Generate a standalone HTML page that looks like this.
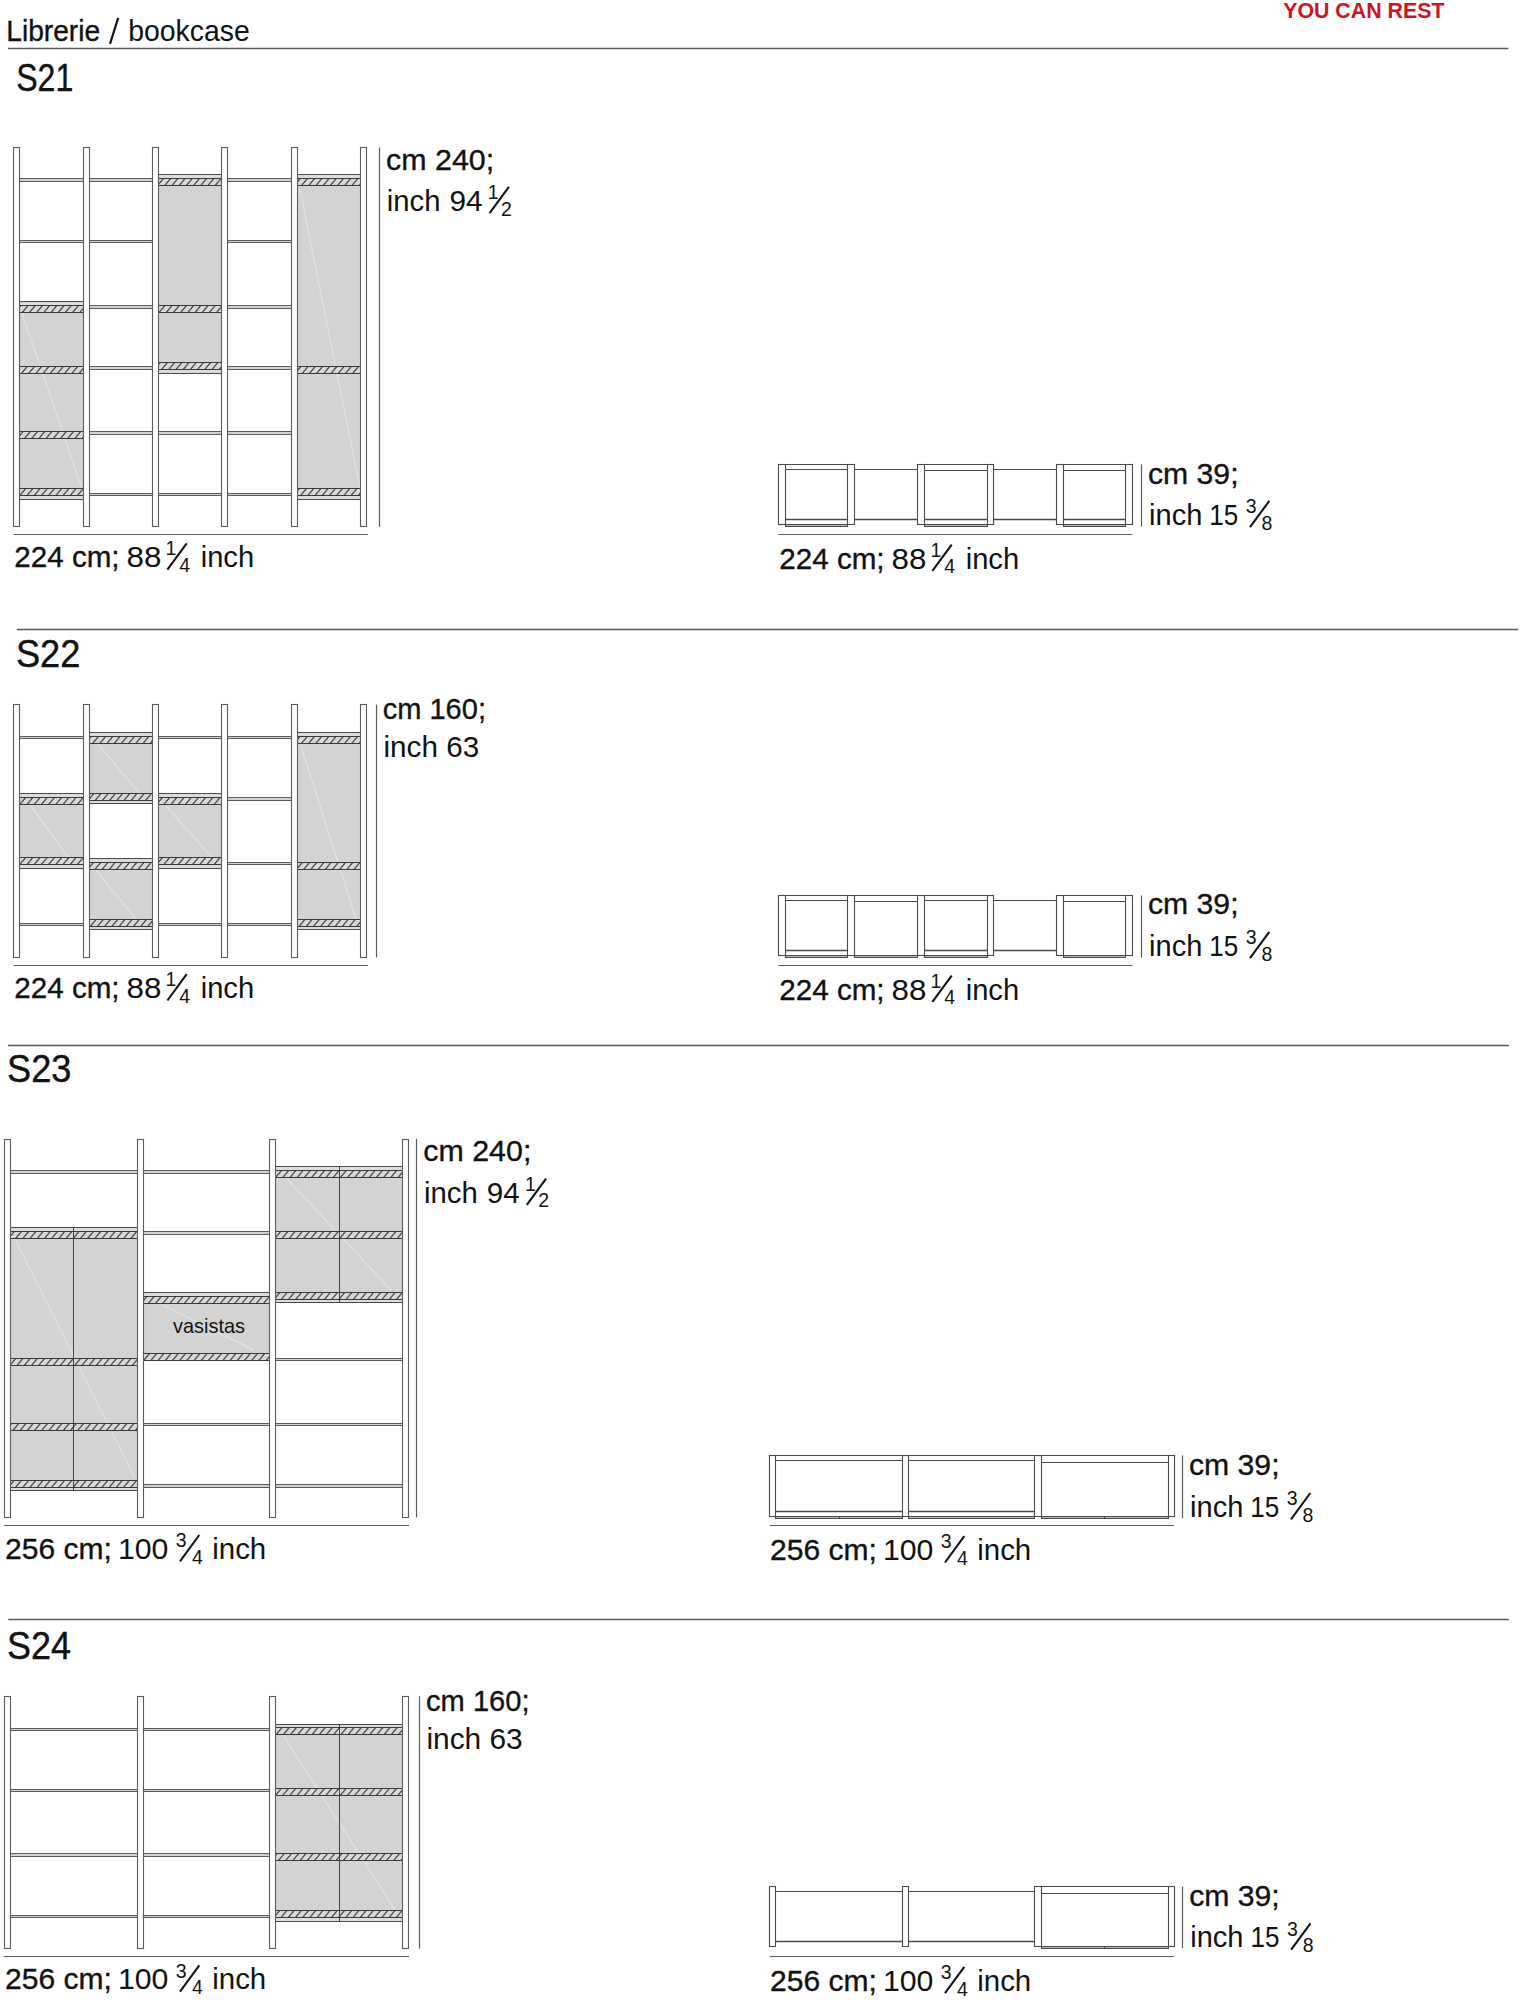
<!DOCTYPE html>
<html><head><meta charset="utf-8"><title>Librerie / bookcase</title>
<style>
html,body{margin:0;padding:0;background:#fff;}
body{width:1520px;height:2000px;position:relative;overflow:hidden;font-family:"Liberation Sans",sans-serif;}
</style></head><body>
<svg width="1520" height="2000" viewBox="0 0 1520 2000" style="position:absolute;left:0;top:0;font-family:'Liberation Sans',sans-serif">
<defs><pattern id="hatch" patternUnits="userSpaceOnUse" width="7.2" height="20" patternTransform="skewX(-40)"><rect x="-1" y="-1" width="9.2" height="22" fill="#d8d8d8"/><rect x="3.0" y="-1" width="1.25" height="22" fill="#1c1c1c"/></pattern></defs>
<line x1="8.00" y1="48.50" x2="1508.40" y2="48.50" stroke="#5a5a5a" stroke-width="1.3" />
<line x1="16.80" y1="629.50" x2="1518.00" y2="629.50" stroke="#5a5a5a" stroke-width="1.3" />
<line x1="7.90" y1="1045.50" x2="1508.80" y2="1045.50" stroke="#5a5a5a" stroke-width="1.3" />
<line x1="8.30" y1="1619.50" x2="1508.80" y2="1619.50" stroke="#5a5a5a" stroke-width="1.3" />
<rect x="19.50" y="178.50" width="64.00" height="3.00" fill="#d2d2d2" stroke="#5c5c5c" stroke-width="1.0" />
<rect x="19.50" y="240.50" width="64.00" height="2.00" fill="#d2d2d2" stroke="#5c5c5c" stroke-width="1.0" />
<rect x="89.50" y="178.50" width="63.00" height="3.00" fill="#d2d2d2" stroke="#5c5c5c" stroke-width="1.0" />
<rect x="89.50" y="240.50" width="63.00" height="2.00" fill="#d2d2d2" stroke="#5c5c5c" stroke-width="1.0" />
<rect x="89.50" y="305.50" width="63.00" height="3.00" fill="#d2d2d2" stroke="#5c5c5c" stroke-width="1.0" />
<rect x="89.50" y="366.50" width="63.00" height="3.00" fill="#d2d2d2" stroke="#5c5c5c" stroke-width="1.0" />
<rect x="89.50" y="431.50" width="63.00" height="3.00" fill="#d2d2d2" stroke="#5c5c5c" stroke-width="1.0" />
<rect x="89.50" y="493.50" width="63.00" height="2.00" fill="#d2d2d2" stroke="#5c5c5c" stroke-width="1.0" />
<rect x="158.50" y="431.50" width="63.00" height="3.00" fill="#d2d2d2" stroke="#5c5c5c" stroke-width="1.0" />
<rect x="158.50" y="493.50" width="63.00" height="2.00" fill="#d2d2d2" stroke="#5c5c5c" stroke-width="1.0" />
<rect x="227.50" y="178.50" width="64.00" height="3.00" fill="#d2d2d2" stroke="#5c5c5c" stroke-width="1.0" />
<rect x="227.50" y="240.50" width="64.00" height="2.00" fill="#d2d2d2" stroke="#5c5c5c" stroke-width="1.0" />
<rect x="227.50" y="305.50" width="64.00" height="3.00" fill="#d2d2d2" stroke="#5c5c5c" stroke-width="1.0" />
<rect x="227.50" y="366.50" width="64.00" height="3.00" fill="#d2d2d2" stroke="#5c5c5c" stroke-width="1.0" />
<rect x="227.50" y="431.50" width="64.00" height="3.00" fill="#d2d2d2" stroke="#5c5c5c" stroke-width="1.0" />
<rect x="227.50" y="493.50" width="64.00" height="2.00" fill="#d2d2d2" stroke="#5c5c5c" stroke-width="1.0" />
<rect x="19.50" y="301.50" width="64.00" height="198.00" fill="#d3d3d3" stroke="#5c5c5c" stroke-width="1.0" />
<line x1="22.00" y1="313.00" x2="81.00" y2="486.00" stroke="#ffffff" stroke-width="1.4" opacity="0.32"/>
<rect x="19.50" y="301.50" width="64.00" height="4.00" fill="#dcdcdc" stroke="#4a4a4a" stroke-width="1.0" />
<rect x="19.50" y="495.50" width="64.00" height="4.00" fill="#dcdcdc" stroke="#4a4a4a" stroke-width="1.0" />
<rect x="19.50" y="305.50" width="64.00" height="7.00" fill="url(#hatch)" stroke="#3a3a3a" stroke-width="1.0" />
<rect x="19.50" y="366.50" width="64.00" height="7.00" fill="url(#hatch)" stroke="#3a3a3a" stroke-width="1.0" />
<rect x="19.50" y="431.50" width="64.00" height="7.00" fill="url(#hatch)" stroke="#3a3a3a" stroke-width="1.0" />
<rect x="19.50" y="488.50" width="64.00" height="7.00" fill="url(#hatch)" stroke="#3a3a3a" stroke-width="1.0" />
<rect x="158.50" y="174.50" width="63.00" height="199.00" fill="#d3d3d3" stroke="#5c5c5c" stroke-width="1.0" />
<rect x="158.50" y="174.50" width="63.00" height="4.00" fill="#dcdcdc" stroke="#4a4a4a" stroke-width="1.0" />
<rect x="158.50" y="369.50" width="63.00" height="4.00" fill="#dcdcdc" stroke="#4a4a4a" stroke-width="1.0" />
<rect x="158.50" y="178.50" width="63.00" height="7.00" fill="url(#hatch)" stroke="#3a3a3a" stroke-width="1.0" />
<rect x="158.50" y="305.50" width="63.00" height="7.00" fill="url(#hatch)" stroke="#3a3a3a" stroke-width="1.0" />
<rect x="158.50" y="362.50" width="63.00" height="7.00" fill="url(#hatch)" stroke="#3a3a3a" stroke-width="1.0" />
<rect x="297.50" y="174.50" width="63.00" height="325.00" fill="#d3d3d3" stroke="#5c5c5c" stroke-width="1.0" />
<line x1="300.00" y1="190.00" x2="360.00" y2="488.00" stroke="#ffffff" stroke-width="1.4" opacity="0.32"/>
<rect x="297.50" y="174.50" width="63.00" height="4.00" fill="#dcdcdc" stroke="#4a4a4a" stroke-width="1.0" />
<rect x="297.50" y="495.50" width="63.00" height="4.00" fill="#dcdcdc" stroke="#4a4a4a" stroke-width="1.0" />
<rect x="297.50" y="178.50" width="63.00" height="7.00" fill="url(#hatch)" stroke="#3a3a3a" stroke-width="1.0" />
<rect x="297.50" y="366.50" width="63.00" height="7.00" fill="url(#hatch)" stroke="#3a3a3a" stroke-width="1.0" />
<rect x="297.50" y="488.50" width="63.00" height="7.00" fill="url(#hatch)" stroke="#3a3a3a" stroke-width="1.0" />
<rect x="13.50" y="147.50" width="6.00" height="379.00" fill="#ffffff" stroke="#5c5c5c" stroke-width="1.1" />
<rect x="83.50" y="147.50" width="6.00" height="379.00" fill="#ffffff" stroke="#5c5c5c" stroke-width="1.1" />
<rect x="152.50" y="147.50" width="6.00" height="379.00" fill="#ffffff" stroke="#5c5c5c" stroke-width="1.1" />
<rect x="221.50" y="147.50" width="6.00" height="379.00" fill="#ffffff" stroke="#5c5c5c" stroke-width="1.1" />
<rect x="291.50" y="147.50" width="6.00" height="379.00" fill="#ffffff" stroke="#5c5c5c" stroke-width="1.1" />
<rect x="360.50" y="147.50" width="6.00" height="379.00" fill="#ffffff" stroke="#5c5c5c" stroke-width="1.1" />
<line x1="379.50" y1="147.50" x2="379.50" y2="526.70" stroke="#5c5c5c" stroke-width="1.2" />
<line x1="13.50" y1="534.50" x2="368.00" y2="534.50" stroke="#5c5c5c" stroke-width="1.2" />
<rect x="19.50" y="736.50" width="64.00" height="2.00" fill="#d2d2d2" stroke="#5c5c5c" stroke-width="1.0" />
<rect x="19.50" y="923.50" width="64.00" height="2.00" fill="#d2d2d2" stroke="#5c5c5c" stroke-width="1.0" />
<rect x="158.50" y="736.50" width="63.00" height="2.00" fill="#d2d2d2" stroke="#5c5c5c" stroke-width="1.0" />
<rect x="158.50" y="923.50" width="63.00" height="2.00" fill="#d2d2d2" stroke="#5c5c5c" stroke-width="1.0" />
<rect x="227.50" y="736.50" width="64.00" height="2.00" fill="#d2d2d2" stroke="#5c5c5c" stroke-width="1.0" />
<rect x="227.50" y="797.50" width="64.00" height="3.00" fill="#d2d2d2" stroke="#5c5c5c" stroke-width="1.0" />
<rect x="227.50" y="862.50" width="64.00" height="2.00" fill="#d2d2d2" stroke="#5c5c5c" stroke-width="1.0" />
<rect x="227.50" y="923.50" width="64.00" height="2.00" fill="#d2d2d2" stroke="#5c5c5c" stroke-width="1.0" />
<rect x="19.50" y="793.50" width="64.00" height="75.00" fill="#d3d3d3" stroke="#5c5c5c" stroke-width="1.0" />
<line x1="31.00" y1="806.00" x2="68.00" y2="857.00" stroke="#ffffff" stroke-width="1.4" opacity="0.32"/>
<rect x="19.50" y="793.50" width="64.00" height="4.00" fill="#dcdcdc" stroke="#4a4a4a" stroke-width="1.0" />
<rect x="19.50" y="864.50" width="64.00" height="4.00" fill="#dcdcdc" stroke="#4a4a4a" stroke-width="1.0" />
<rect x="19.50" y="797.50" width="64.00" height="7.00" fill="url(#hatch)" stroke="#3a3a3a" stroke-width="1.0" />
<rect x="19.50" y="857.50" width="64.00" height="7.00" fill="url(#hatch)" stroke="#3a3a3a" stroke-width="1.0" />
<rect x="89.50" y="732.50" width="63.00" height="71.00" fill="#d3d3d3" stroke="#5c5c5c" stroke-width="1.0" />
<line x1="97.50" y1="743.50" x2="139.00" y2="792.50" stroke="#ffffff" stroke-width="1.4" opacity="0.32"/>
<rect x="89.50" y="732.50" width="63.00" height="4.00" fill="#dcdcdc" stroke="#4a4a4a" stroke-width="1.0" />
<rect x="89.50" y="800.50" width="63.00" height="3.00" fill="#dcdcdc" stroke="#4a4a4a" stroke-width="1.0" />
<rect x="89.50" y="736.50" width="63.00" height="7.00" fill="url(#hatch)" stroke="#3a3a3a" stroke-width="1.0" />
<rect x="89.50" y="793.50" width="63.00" height="7.00" fill="url(#hatch)" stroke="#3a3a3a" stroke-width="1.0" />
<rect x="89.50" y="858.50" width="63.00" height="71.00" fill="#d3d3d3" stroke="#5c5c5c" stroke-width="1.0" />
<line x1="95.00" y1="869.00" x2="136.00" y2="919.00" stroke="#ffffff" stroke-width="1.4" opacity="0.32"/>
<rect x="89.50" y="858.50" width="63.00" height="4.00" fill="#dcdcdc" stroke="#4a4a4a" stroke-width="1.0" />
<rect x="89.50" y="926.50" width="63.00" height="3.00" fill="#dcdcdc" stroke="#4a4a4a" stroke-width="1.0" />
<rect x="89.50" y="862.50" width="63.00" height="7.00" fill="url(#hatch)" stroke="#3a3a3a" stroke-width="1.0" />
<rect x="89.50" y="919.50" width="63.00" height="7.00" fill="url(#hatch)" stroke="#3a3a3a" stroke-width="1.0" />
<rect x="158.50" y="793.50" width="63.00" height="75.00" fill="#d3d3d3" stroke="#5c5c5c" stroke-width="1.0" />
<line x1="166.00" y1="806.00" x2="212.00" y2="857.00" stroke="#ffffff" stroke-width="1.4" opacity="0.32"/>
<rect x="158.50" y="793.50" width="63.00" height="4.00" fill="#dcdcdc" stroke="#4a4a4a" stroke-width="1.0" />
<rect x="158.50" y="864.50" width="63.00" height="4.00" fill="#dcdcdc" stroke="#4a4a4a" stroke-width="1.0" />
<rect x="158.50" y="797.50" width="63.00" height="7.00" fill="url(#hatch)" stroke="#3a3a3a" stroke-width="1.0" />
<rect x="158.50" y="857.50" width="63.00" height="7.00" fill="url(#hatch)" stroke="#3a3a3a" stroke-width="1.0" />
<rect x="297.50" y="732.50" width="63.00" height="197.00" fill="#d3d3d3" stroke="#5c5c5c" stroke-width="1.0" />
<line x1="300.00" y1="743.00" x2="356.00" y2="919.00" stroke="#ffffff" stroke-width="1.4" opacity="0.32"/>
<rect x="297.50" y="732.50" width="63.00" height="4.00" fill="#dcdcdc" stroke="#4a4a4a" stroke-width="1.0" />
<rect x="297.50" y="926.50" width="63.00" height="3.00" fill="#dcdcdc" stroke="#4a4a4a" stroke-width="1.0" />
<rect x="297.50" y="736.50" width="63.00" height="7.00" fill="url(#hatch)" stroke="#3a3a3a" stroke-width="1.0" />
<rect x="297.50" y="862.50" width="63.00" height="7.00" fill="url(#hatch)" stroke="#3a3a3a" stroke-width="1.0" />
<rect x="297.50" y="919.50" width="63.00" height="7.00" fill="url(#hatch)" stroke="#3a3a3a" stroke-width="1.0" />
<rect x="13.50" y="704.50" width="6.00" height="253.00" fill="#ffffff" stroke="#5c5c5c" stroke-width="1.1" />
<rect x="83.50" y="704.50" width="6.00" height="253.00" fill="#ffffff" stroke="#5c5c5c" stroke-width="1.1" />
<rect x="152.50" y="704.50" width="6.00" height="253.00" fill="#ffffff" stroke="#5c5c5c" stroke-width="1.1" />
<rect x="221.50" y="704.50" width="6.00" height="253.00" fill="#ffffff" stroke="#5c5c5c" stroke-width="1.1" />
<rect x="291.50" y="704.50" width="6.00" height="253.00" fill="#ffffff" stroke="#5c5c5c" stroke-width="1.1" />
<rect x="360.50" y="704.50" width="6.00" height="253.00" fill="#ffffff" stroke="#5c5c5c" stroke-width="1.1" />
<line x1="376.50" y1="704.50" x2="376.50" y2="957.50" stroke="#5c5c5c" stroke-width="1.2" />
<line x1="13.50" y1="965.50" x2="368.00" y2="965.50" stroke="#5c5c5c" stroke-width="1.2" />
<rect x="10.50" y="1170.50" width="127.00" height="3.00" fill="#d2d2d2" stroke="#5c5c5c" stroke-width="1.0" />
<rect x="143.50" y="1170.50" width="126.00" height="3.00" fill="#d2d2d2" stroke="#5c5c5c" stroke-width="1.0" />
<rect x="143.50" y="1231.50" width="126.00" height="3.00" fill="#d2d2d2" stroke="#5c5c5c" stroke-width="1.0" />
<rect x="143.50" y="1423.50" width="126.00" height="2.00" fill="#d2d2d2" stroke="#5c5c5c" stroke-width="1.0" />
<rect x="143.50" y="1484.50" width="126.00" height="3.00" fill="#d2d2d2" stroke="#5c5c5c" stroke-width="1.0" />
<rect x="275.50" y="1358.50" width="127.00" height="2.00" fill="#d2d2d2" stroke="#5c5c5c" stroke-width="1.0" />
<rect x="275.50" y="1423.50" width="127.00" height="2.00" fill="#d2d2d2" stroke="#5c5c5c" stroke-width="1.0" />
<rect x="275.50" y="1484.50" width="127.00" height="3.00" fill="#d2d2d2" stroke="#5c5c5c" stroke-width="1.0" />
<rect x="10.50" y="1227.50" width="127.00" height="263.00" fill="#d3d3d3" stroke="#5c5c5c" stroke-width="1.0" />
<line x1="15.00" y1="1239.00" x2="135.00" y2="1478.00" stroke="#ffffff" stroke-width="1.4" opacity="0.32"/>
<rect x="10.50" y="1227.50" width="127.00" height="4.00" fill="#dcdcdc" stroke="#4a4a4a" stroke-width="1.0" />
<rect x="10.50" y="1487.50" width="127.00" height="3.00" fill="#dcdcdc" stroke="#4a4a4a" stroke-width="1.0" />
<rect x="10.50" y="1231.50" width="127.00" height="7.00" fill="url(#hatch)" stroke="#3a3a3a" stroke-width="1.0" />
<rect x="10.50" y="1358.50" width="127.00" height="7.00" fill="url(#hatch)" stroke="#3a3a3a" stroke-width="1.0" />
<rect x="10.50" y="1423.50" width="127.00" height="7.00" fill="url(#hatch)" stroke="#3a3a3a" stroke-width="1.0" />
<rect x="10.50" y="1480.50" width="127.00" height="7.00" fill="url(#hatch)" stroke="#3a3a3a" stroke-width="1.0" />
<line x1="73.50" y1="1227.90" x2="73.50" y2="1491.00" stroke="#333333" stroke-width="0.9" />
<rect x="143.50" y="1292.50" width="126.00" height="68.00" fill="#d3d3d3" stroke="#5c5c5c" stroke-width="1.0" />
<line x1="161.60" y1="1304.70" x2="254.00" y2="1350.00" stroke="#ffffff" stroke-width="1.4" opacity="0.32"/>
<rect x="143.50" y="1292.50" width="126.00" height="4.00" fill="#dcdcdc" stroke="#4a4a4a" stroke-width="1.0" />
<rect x="143.50" y="1296.50" width="126.00" height="7.00" fill="url(#hatch)" stroke="#3a3a3a" stroke-width="1.0" />
<rect x="143.50" y="1353.50" width="126.00" height="7.00" fill="url(#hatch)" stroke="#3a3a3a" stroke-width="1.0" />
<rect x="275.50" y="1166.50" width="127.00" height="136.00" fill="#d3d3d3" stroke="#5c5c5c" stroke-width="1.0" />
<line x1="287.00" y1="1179.00" x2="391.00" y2="1290.00" stroke="#ffffff" stroke-width="1.4" opacity="0.32"/>
<rect x="275.50" y="1166.50" width="127.00" height="4.00" fill="#dcdcdc" stroke="#4a4a4a" stroke-width="1.0" />
<rect x="275.50" y="1299.50" width="127.00" height="3.00" fill="#dcdcdc" stroke="#4a4a4a" stroke-width="1.0" />
<rect x="275.50" y="1170.50" width="127.00" height="7.00" fill="url(#hatch)" stroke="#3a3a3a" stroke-width="1.0" />
<rect x="275.50" y="1231.50" width="127.00" height="7.00" fill="url(#hatch)" stroke="#3a3a3a" stroke-width="1.0" />
<rect x="275.50" y="1292.50" width="127.00" height="7.00" fill="url(#hatch)" stroke="#3a3a3a" stroke-width="1.0" />
<line x1="339.50" y1="1166.70" x2="339.50" y2="1302.70" stroke="#333333" stroke-width="0.9" />
<rect x="4.50" y="1139.50" width="6.00" height="378.00" fill="#ffffff" stroke="#5c5c5c" stroke-width="1.1" />
<rect x="137.50" y="1139.50" width="6.00" height="378.00" fill="#ffffff" stroke="#5c5c5c" stroke-width="1.1" />
<rect x="269.50" y="1139.50" width="6.00" height="378.00" fill="#ffffff" stroke="#5c5c5c" stroke-width="1.1" />
<rect x="402.50" y="1139.50" width="6.00" height="378.00" fill="#ffffff" stroke="#5c5c5c" stroke-width="1.1" />
<line x1="416.50" y1="1138.80" x2="416.50" y2="1517.60" stroke="#5c5c5c" stroke-width="1.2" />
<line x1="4.00" y1="1525.50" x2="409.00" y2="1525.50" stroke="#5c5c5c" stroke-width="1.2" />
<rect x="10.50" y="1728.50" width="127.00" height="2.00" fill="#d2d2d2" stroke="#5c5c5c" stroke-width="1.0" />
<rect x="10.50" y="1789.50" width="127.00" height="2.00" fill="#d2d2d2" stroke="#5c5c5c" stroke-width="1.0" />
<rect x="10.50" y="1853.50" width="127.00" height="3.00" fill="#d2d2d2" stroke="#5c5c5c" stroke-width="1.0" />
<rect x="10.50" y="1915.50" width="127.00" height="2.00" fill="#d2d2d2" stroke="#5c5c5c" stroke-width="1.0" />
<rect x="143.50" y="1728.50" width="126.00" height="2.00" fill="#d2d2d2" stroke="#5c5c5c" stroke-width="1.0" />
<rect x="143.50" y="1789.50" width="126.00" height="2.00" fill="#d2d2d2" stroke="#5c5c5c" stroke-width="1.0" />
<rect x="143.50" y="1853.50" width="126.00" height="3.00" fill="#d2d2d2" stroke="#5c5c5c" stroke-width="1.0" />
<rect x="143.50" y="1915.50" width="126.00" height="2.00" fill="#d2d2d2" stroke="#5c5c5c" stroke-width="1.0" />
<rect x="275.50" y="1724.50" width="127.00" height="197.00" fill="#d3d3d3" stroke="#5c5c5c" stroke-width="1.0" />
<line x1="283.00" y1="1735.00" x2="395.00" y2="1910.00" stroke="#ffffff" stroke-width="1.4" opacity="0.32"/>
<rect x="275.50" y="1724.50" width="127.00" height="3.00" fill="#dcdcdc" stroke="#4a4a4a" stroke-width="1.0" />
<rect x="275.50" y="1917.50" width="127.00" height="4.00" fill="#dcdcdc" stroke="#4a4a4a" stroke-width="1.0" />
<rect x="275.50" y="1727.50" width="127.00" height="7.00" fill="url(#hatch)" stroke="#3a3a3a" stroke-width="1.0" />
<rect x="275.50" y="1788.50" width="127.00" height="7.00" fill="url(#hatch)" stroke="#3a3a3a" stroke-width="1.0" />
<rect x="275.50" y="1853.50" width="127.00" height="7.00" fill="url(#hatch)" stroke="#3a3a3a" stroke-width="1.0" />
<rect x="275.50" y="1910.50" width="127.00" height="7.00" fill="url(#hatch)" stroke="#3a3a3a" stroke-width="1.0" />
<line x1="339.50" y1="1724.10" x2="339.50" y2="1921.20" stroke="#333333" stroke-width="0.9" />
<rect x="4.50" y="1696.50" width="6.00" height="252.00" fill="#ffffff" stroke="#5c5c5c" stroke-width="1.1" />
<rect x="137.50" y="1696.50" width="6.00" height="252.00" fill="#ffffff" stroke="#5c5c5c" stroke-width="1.1" />
<rect x="269.50" y="1696.50" width="6.00" height="252.00" fill="#ffffff" stroke="#5c5c5c" stroke-width="1.1" />
<rect x="402.50" y="1696.50" width="6.00" height="252.00" fill="#ffffff" stroke="#5c5c5c" stroke-width="1.1" />
<line x1="419.50" y1="1696.20" x2="419.50" y2="1948.60" stroke="#5c5c5c" stroke-width="1.2" />
<line x1="4.00" y1="1956.50" x2="409.00" y2="1956.50" stroke="#5c5c5c" stroke-width="1.2" />
<line x1="785.10" y1="464.50" x2="847.90" y2="464.50" stroke="#4a4a4a" stroke-width="1.0" />
<line x1="785.10" y1="469.50" x2="847.90" y2="469.50" stroke="#4a4a4a" stroke-width="1.0" />
<line x1="785.10" y1="519.50" x2="847.90" y2="519.50" stroke="#4a4a4a" stroke-width="1.4" />
<line x1="785.10" y1="524.50" x2="847.90" y2="524.50" stroke="#4a4a4a" stroke-width="1.0" />
<rect x="785.50" y="524.50" width="62.00" height="2.00" fill="#bababa" stroke="#4a4a4a" stroke-width="1.0" />
<line x1="854.70" y1="469.50" x2="917.40" y2="469.50" stroke="#4a4a4a" stroke-width="1.0" />
<line x1="854.70" y1="519.50" x2="917.40" y2="519.50" stroke="#4a4a4a" stroke-width="1.4" />
<line x1="924.20" y1="464.50" x2="987.00" y2="464.50" stroke="#4a4a4a" stroke-width="1.0" />
<line x1="924.20" y1="470.50" x2="987.00" y2="470.50" stroke="#4a4a4a" stroke-width="1.0" />
<line x1="924.20" y1="519.50" x2="987.00" y2="519.50" stroke="#4a4a4a" stroke-width="1.4" />
<line x1="924.20" y1="524.50" x2="987.00" y2="524.50" stroke="#4a4a4a" stroke-width="1.0" />
<rect x="924.50" y="524.50" width="63.00" height="2.00" fill="#bababa" stroke="#4a4a4a" stroke-width="1.0" />
<line x1="993.80" y1="469.50" x2="1056.70" y2="469.50" stroke="#4a4a4a" stroke-width="1.0" />
<line x1="993.80" y1="519.50" x2="1056.70" y2="519.50" stroke="#4a4a4a" stroke-width="1.4" />
<line x1="1063.50" y1="464.50" x2="1125.70" y2="464.50" stroke="#4a4a4a" stroke-width="1.0" />
<line x1="1063.50" y1="470.50" x2="1125.70" y2="470.50" stroke="#4a4a4a" stroke-width="1.0" />
<line x1="1063.50" y1="519.50" x2="1125.70" y2="519.50" stroke="#4a4a4a" stroke-width="1.4" />
<line x1="1063.50" y1="524.50" x2="1125.70" y2="524.50" stroke="#4a4a4a" stroke-width="1.0" />
<rect x="1063.50" y="524.50" width="62.00" height="2.00" fill="#bababa" stroke="#4a4a4a" stroke-width="1.0" />
<rect x="778.50" y="464.50" width="7.00" height="60.00" fill="#ffffff" stroke="#4a4a4a" stroke-width="1.1" />
<rect x="847.50" y="464.50" width="7.00" height="60.00" fill="#ffffff" stroke="#4a4a4a" stroke-width="1.1" />
<rect x="917.50" y="464.50" width="7.00" height="60.00" fill="#ffffff" stroke="#4a4a4a" stroke-width="1.1" />
<rect x="987.50" y="464.50" width="6.00" height="60.00" fill="#ffffff" stroke="#4a4a4a" stroke-width="1.1" />
<rect x="1056.50" y="464.50" width="7.00" height="60.00" fill="#ffffff" stroke="#4a4a4a" stroke-width="1.1" />
<rect x="1125.50" y="464.50" width="7.00" height="60.00" fill="#ffffff" stroke="#4a4a4a" stroke-width="1.1" />
<line x1="1141.50" y1="464.30" x2="1141.50" y2="526.60" stroke="#5c5c5c" stroke-width="1.2" />
<line x1="778.30" y1="534.50" x2="1132.50" y2="534.50" stroke="#5c5c5c" stroke-width="1.2" />
<line x1="785.10" y1="895.50" x2="847.90" y2="895.50" stroke="#4a4a4a" stroke-width="1.0" />
<line x1="785.10" y1="900.50" x2="847.90" y2="900.50" stroke="#4a4a4a" stroke-width="1.0" />
<line x1="785.10" y1="950.50" x2="847.90" y2="950.50" stroke="#4a4a4a" stroke-width="1.4" />
<line x1="785.10" y1="955.50" x2="847.90" y2="955.50" stroke="#4a4a4a" stroke-width="1.0" />
<rect x="785.50" y="955.50" width="62.00" height="2.00" fill="#bababa" stroke="#4a4a4a" stroke-width="1.0" />
<line x1="854.70" y1="895.50" x2="917.40" y2="895.50" stroke="#4a4a4a" stroke-width="1.0" />
<line x1="854.70" y1="901.50" x2="917.40" y2="901.50" stroke="#4a4a4a" stroke-width="1.0" />
<line x1="854.70" y1="955.50" x2="917.40" y2="955.50" stroke="#4a4a4a" stroke-width="1.0" />
<rect x="854.50" y="955.50" width="63.00" height="2.00" fill="#bababa" stroke="#4a4a4a" stroke-width="1.0" />
<line x1="924.20" y1="895.50" x2="987.00" y2="895.50" stroke="#4a4a4a" stroke-width="1.0" />
<line x1="924.20" y1="900.50" x2="987.00" y2="900.50" stroke="#4a4a4a" stroke-width="1.0" />
<line x1="924.20" y1="950.50" x2="987.00" y2="950.50" stroke="#4a4a4a" stroke-width="1.4" />
<line x1="924.20" y1="955.50" x2="987.00" y2="955.50" stroke="#4a4a4a" stroke-width="1.0" />
<rect x="924.50" y="955.50" width="63.00" height="2.00" fill="#bababa" stroke="#4a4a4a" stroke-width="1.0" />
<line x1="993.80" y1="900.50" x2="1056.70" y2="900.50" stroke="#4a4a4a" stroke-width="1.0" />
<line x1="993.80" y1="950.50" x2="1056.70" y2="950.50" stroke="#4a4a4a" stroke-width="1.4" />
<line x1="1063.50" y1="895.50" x2="1125.70" y2="895.50" stroke="#4a4a4a" stroke-width="1.0" />
<line x1="1063.50" y1="901.50" x2="1125.70" y2="901.50" stroke="#4a4a4a" stroke-width="1.0" />
<line x1="1063.50" y1="955.50" x2="1125.70" y2="955.50" stroke="#4a4a4a" stroke-width="1.0" />
<rect x="1063.50" y="955.50" width="62.00" height="2.00" fill="#bababa" stroke="#4a4a4a" stroke-width="1.0" />
<rect x="778.50" y="895.50" width="7.00" height="60.00" fill="#ffffff" stroke="#4a4a4a" stroke-width="1.1" />
<rect x="847.50" y="895.50" width="7.00" height="60.00" fill="#ffffff" stroke="#4a4a4a" stroke-width="1.1" />
<rect x="917.50" y="895.50" width="7.00" height="60.00" fill="#ffffff" stroke="#4a4a4a" stroke-width="1.1" />
<rect x="987.50" y="895.50" width="6.00" height="60.00" fill="#ffffff" stroke="#4a4a4a" stroke-width="1.1" />
<rect x="1056.50" y="895.50" width="7.00" height="60.00" fill="#ffffff" stroke="#4a4a4a" stroke-width="1.1" />
<rect x="1125.50" y="895.50" width="7.00" height="60.00" fill="#ffffff" stroke="#4a4a4a" stroke-width="1.1" />
<line x1="1141.50" y1="895.50" x2="1141.50" y2="957.60" stroke="#5c5c5c" stroke-width="1.2" />
<line x1="778.30" y1="965.50" x2="1132.50" y2="965.50" stroke="#5c5c5c" stroke-width="1.2" />
<line x1="775.90" y1="1455.50" x2="902.30" y2="1455.50" stroke="#4a4a4a" stroke-width="1.0" />
<line x1="775.90" y1="1460.50" x2="902.30" y2="1460.50" stroke="#4a4a4a" stroke-width="1.0" />
<line x1="775.90" y1="1511.50" x2="902.30" y2="1511.50" stroke="#4a4a4a" stroke-width="1.4" />
<line x1="775.90" y1="1516.50" x2="902.30" y2="1516.50" stroke="#4a4a4a" stroke-width="1.0" />
<rect x="775.50" y="1516.50" width="127.00" height="2.00" fill="#bababa" stroke="#4a4a4a" stroke-width="1.0" />
<line x1="839.50" y1="1516.00" x2="839.50" y2="1518.20" stroke="#4a4a4a" stroke-width="1.0" />
<line x1="908.50" y1="1455.50" x2="1034.90" y2="1455.50" stroke="#4a4a4a" stroke-width="1.0" />
<line x1="908.50" y1="1460.50" x2="1034.90" y2="1460.50" stroke="#4a4a4a" stroke-width="1.0" />
<line x1="908.50" y1="1511.50" x2="1034.90" y2="1511.50" stroke="#4a4a4a" stroke-width="1.4" />
<line x1="908.50" y1="1516.50" x2="1034.90" y2="1516.50" stroke="#4a4a4a" stroke-width="1.0" />
<rect x="908.50" y="1516.50" width="126.00" height="2.00" fill="#bababa" stroke="#4a4a4a" stroke-width="1.0" />
<line x1="1041.10" y1="1455.50" x2="1168.00" y2="1455.50" stroke="#4a4a4a" stroke-width="1.0" />
<line x1="1041.10" y1="1462.50" x2="1168.00" y2="1462.50" stroke="#4a4a4a" stroke-width="1.0" />
<line x1="1041.10" y1="1516.50" x2="1168.00" y2="1516.50" stroke="#4a4a4a" stroke-width="1.0" />
<rect x="1041.50" y="1516.50" width="127.00" height="2.00" fill="#bababa" stroke="#4a4a4a" stroke-width="1.0" />
<line x1="1104.50" y1="1516.00" x2="1104.50" y2="1518.20" stroke="#4a4a4a" stroke-width="1.0" />
<rect x="769.50" y="1455.50" width="6.00" height="61.00" fill="#ffffff" stroke="#4a4a4a" stroke-width="1.1" />
<rect x="902.50" y="1455.50" width="6.00" height="61.00" fill="#ffffff" stroke="#4a4a4a" stroke-width="1.1" />
<rect x="1034.50" y="1455.50" width="7.00" height="61.00" fill="#ffffff" stroke="#4a4a4a" stroke-width="1.1" />
<rect x="1168.50" y="1455.50" width="6.00" height="61.00" fill="#ffffff" stroke="#4a4a4a" stroke-width="1.1" />
<line x1="1182.50" y1="1455.40" x2="1182.50" y2="1518.20" stroke="#5c5c5c" stroke-width="1.2" />
<line x1="769.70" y1="1525.50" x2="1174.00" y2="1525.50" stroke="#5c5c5c" stroke-width="1.2" />
<line x1="775.90" y1="1891.50" x2="902.30" y2="1891.50" stroke="#4a4a4a" stroke-width="1.0" />
<line x1="775.90" y1="1941.50" x2="902.30" y2="1941.50" stroke="#4a4a4a" stroke-width="1.4" />
<line x1="908.50" y1="1891.50" x2="1034.90" y2="1891.50" stroke="#4a4a4a" stroke-width="1.0" />
<line x1="908.50" y1="1941.50" x2="1034.90" y2="1941.50" stroke="#4a4a4a" stroke-width="1.4" />
<line x1="1041.10" y1="1886.50" x2="1168.00" y2="1886.50" stroke="#4a4a4a" stroke-width="1.0" />
<line x1="1041.10" y1="1893.50" x2="1168.00" y2="1893.50" stroke="#4a4a4a" stroke-width="1.0" />
<line x1="1041.10" y1="1946.50" x2="1168.00" y2="1946.50" stroke="#4a4a4a" stroke-width="1.0" />
<rect x="1041.50" y="1946.50" width="127.00" height="2.00" fill="#bababa" stroke="#4a4a4a" stroke-width="1.0" />
<line x1="1104.50" y1="1946.80" x2="1104.50" y2="1948.80" stroke="#4a4a4a" stroke-width="1.0" />
<rect x="769.50" y="1886.50" width="6.00" height="60.00" fill="#ffffff" stroke="#4a4a4a" stroke-width="1.1" />
<rect x="902.50" y="1886.50" width="6.00" height="60.00" fill="#ffffff" stroke="#4a4a4a" stroke-width="1.1" />
<rect x="1034.50" y="1886.50" width="7.00" height="60.00" fill="#ffffff" stroke="#4a4a4a" stroke-width="1.1" />
<rect x="1168.50" y="1886.50" width="6.00" height="60.00" fill="#ffffff" stroke="#4a4a4a" stroke-width="1.1" />
<line x1="1182.50" y1="1886.60" x2="1182.50" y2="1948.20" stroke="#5c5c5c" stroke-width="1.2" />
<line x1="769.70" y1="1956.50" x2="1174.00" y2="1956.50" stroke="#5c5c5c" stroke-width="1.2" />
<text x="6.22" y="41.00" font-size="30.0" font-weight="normal" fill="#121212" stroke="#121212" stroke-width="0.35" textLength="93.98" lengthAdjust="spacingAndGlyphs">Librerie</text>
<text x="128.21" y="40.90" font-size="30.0" font-weight="normal" fill="#121212" textLength="121.66" lengthAdjust="spacingAndGlyphs">bookcase</text>
<text x="1283.23" y="17.90" font-size="22.0" font-weight="bold" fill="#cf1420" textLength="161.21" lengthAdjust="spacingAndGlyphs">YOU CAN REST</text>
<text x="16.13" y="90.60" font-size="38.5" font-weight="normal" fill="#121212" stroke="#121212" stroke-width="0.4" textLength="57.13" lengthAdjust="spacingAndGlyphs">S21</text>
<text x="15.92" y="667.10" font-size="38.5" font-weight="normal" fill="#121212" stroke="#121212" stroke-width="0.4" textLength="64.51" lengthAdjust="spacingAndGlyphs">S22</text>
<text x="7.02" y="1082.30" font-size="38.5" font-weight="normal" fill="#121212" stroke="#121212" stroke-width="0.4" textLength="64.40" lengthAdjust="spacingAndGlyphs">S23</text>
<text x="6.93" y="1658.60" font-size="38.5" font-weight="normal" fill="#121212" stroke="#121212" stroke-width="0.4" textLength="64.05" lengthAdjust="spacingAndGlyphs">S24</text>
<text x="386.09" y="169.50" font-size="30.0" font-weight="normal" fill="#121212" stroke="#121212" stroke-width="0.35" textLength="108.05" lengthAdjust="spacingAndGlyphs">cm 240;</text>
<text x="386.80" y="210.90" font-size="30.0" font-weight="normal" fill="#121212" textLength="53.70" lengthAdjust="spacingAndGlyphs">inch</text>
<text x="449.51" y="210.90" font-size="30.0" font-weight="normal" fill="#121212" textLength="33.06" lengthAdjust="spacingAndGlyphs">94</text>
<text x="382.73" y="719.10" font-size="30.0" font-weight="normal" fill="#121212" stroke="#121212" stroke-width="0.35" textLength="103.23" lengthAdjust="spacingAndGlyphs">cm 160;</text>
<text x="383.52" y="757.00" font-size="30.0" font-weight="normal" fill="#121212" textLength="95.62" lengthAdjust="spacingAndGlyphs">inch 63</text>
<text x="423.29" y="1161.00" font-size="30.0" font-weight="normal" fill="#121212" stroke="#121212" stroke-width="0.35" textLength="108.05" lengthAdjust="spacingAndGlyphs">cm 240;</text>
<text x="424.00" y="1202.60" font-size="30.0" font-weight="normal" fill="#121212" textLength="53.70" lengthAdjust="spacingAndGlyphs">inch</text>
<text x="486.71" y="1202.60" font-size="30.0" font-weight="normal" fill="#121212" textLength="33.06" lengthAdjust="spacingAndGlyphs">94</text>
<text x="426.03" y="1711.00" font-size="30.0" font-weight="normal" fill="#121212" stroke="#121212" stroke-width="0.35" textLength="103.54" lengthAdjust="spacingAndGlyphs">cm 160;</text>
<text x="426.41" y="1748.50" font-size="30.0" font-weight="normal" fill="#121212" textLength="96.34" lengthAdjust="spacingAndGlyphs">inch 63</text>
<text x="1147.99" y="483.60" font-size="30.0" font-weight="normal" fill="#121212" stroke="#121212" stroke-width="0.35" textLength="90.55" lengthAdjust="spacingAndGlyphs">cm 39;</text>
<text x="1149.07" y="524.90" font-size="30.0" font-weight="normal" fill="#121212" textLength="53.21" lengthAdjust="spacingAndGlyphs">inch</text>
<text x="1209.37" y="524.90" font-size="30.0" font-weight="normal" fill="#121212" textLength="28.93" lengthAdjust="spacingAndGlyphs">15</text>
<text x="1147.99" y="914.40" font-size="30.0" font-weight="normal" fill="#121212" stroke="#121212" stroke-width="0.35" textLength="90.55" lengthAdjust="spacingAndGlyphs">cm 39;</text>
<text x="1149.07" y="955.90" font-size="30.0" font-weight="normal" fill="#121212" textLength="53.21" lengthAdjust="spacingAndGlyphs">inch</text>
<text x="1209.37" y="955.90" font-size="30.0" font-weight="normal" fill="#121212" textLength="28.93" lengthAdjust="spacingAndGlyphs">15</text>
<text x="1188.99" y="1474.90" font-size="30.0" font-weight="normal" fill="#121212" stroke="#121212" stroke-width="0.35" textLength="90.55" lengthAdjust="spacingAndGlyphs">cm 39;</text>
<text x="1190.07" y="1517.00" font-size="30.0" font-weight="normal" fill="#121212" textLength="53.21" lengthAdjust="spacingAndGlyphs">inch</text>
<text x="1250.37" y="1517.00" font-size="30.0" font-weight="normal" fill="#121212" textLength="28.93" lengthAdjust="spacingAndGlyphs">15</text>
<text x="1189.19" y="1905.60" font-size="30.0" font-weight="normal" fill="#121212" stroke="#121212" stroke-width="0.35" textLength="90.55" lengthAdjust="spacingAndGlyphs">cm 39;</text>
<text x="1190.27" y="1947.40" font-size="30.0" font-weight="normal" fill="#121212" textLength="53.21" lengthAdjust="spacingAndGlyphs">inch</text>
<text x="1250.57" y="1947.40" font-size="30.0" font-weight="normal" fill="#121212" textLength="28.93" lengthAdjust="spacingAndGlyphs">15</text>
<text x="14.31" y="567.40" font-size="30.0" font-weight="normal" fill="#121212" stroke="#121212" stroke-width="0.35" textLength="105.28" lengthAdjust="spacingAndGlyphs">224 cm;</text>
<text x="126.55" y="567.40" font-size="30.0" font-weight="normal" fill="#121212" textLength="34.88" lengthAdjust="spacingAndGlyphs">88</text>
<text x="200.66" y="567.40" font-size="30.0" font-weight="normal" fill="#121212" textLength="53.43" lengthAdjust="spacingAndGlyphs">inch</text>
<text x="779.31" y="568.60" font-size="30.0" font-weight="normal" fill="#121212" stroke="#121212" stroke-width="0.35" textLength="105.28" lengthAdjust="spacingAndGlyphs">224 cm;</text>
<text x="891.55" y="568.60" font-size="30.0" font-weight="normal" fill="#121212" textLength="34.88" lengthAdjust="spacingAndGlyphs">88</text>
<text x="965.66" y="568.60" font-size="30.0" font-weight="normal" fill="#121212" textLength="53.43" lengthAdjust="spacingAndGlyphs">inch</text>
<text x="14.31" y="998.20" font-size="30.0" font-weight="normal" fill="#121212" stroke="#121212" stroke-width="0.35" textLength="105.28" lengthAdjust="spacingAndGlyphs">224 cm;</text>
<text x="126.55" y="998.20" font-size="30.0" font-weight="normal" fill="#121212" textLength="34.88" lengthAdjust="spacingAndGlyphs">88</text>
<text x="200.66" y="998.20" font-size="30.0" font-weight="normal" fill="#121212" textLength="53.43" lengthAdjust="spacingAndGlyphs">inch</text>
<text x="779.31" y="999.60" font-size="30.0" font-weight="normal" fill="#121212" stroke="#121212" stroke-width="0.35" textLength="105.28" lengthAdjust="spacingAndGlyphs">224 cm;</text>
<text x="891.55" y="999.60" font-size="30.0" font-weight="normal" fill="#121212" textLength="34.88" lengthAdjust="spacingAndGlyphs">88</text>
<text x="965.66" y="999.60" font-size="30.0" font-weight="normal" fill="#121212" textLength="53.43" lengthAdjust="spacingAndGlyphs">inch</text>
<text x="5.00" y="1559.00" font-size="30.0" font-weight="normal" fill="#121212" stroke="#121212" stroke-width="0.35" textLength="106.82" lengthAdjust="spacingAndGlyphs">256 cm;</text>
<text x="117.98" y="1559.00" font-size="30.0" font-weight="normal" fill="#121212" textLength="50.49" lengthAdjust="spacingAndGlyphs">100</text>
<text x="212.24" y="1559.00" font-size="30.0" font-weight="normal" fill="#121212" textLength="53.97" lengthAdjust="spacingAndGlyphs">inch</text>
<text x="770.00" y="1560.20" font-size="30.0" font-weight="normal" fill="#121212" stroke="#121212" stroke-width="0.35" textLength="106.82" lengthAdjust="spacingAndGlyphs">256 cm;</text>
<text x="882.98" y="1560.20" font-size="30.0" font-weight="normal" fill="#121212" textLength="50.49" lengthAdjust="spacingAndGlyphs">100</text>
<text x="977.24" y="1560.20" font-size="30.0" font-weight="normal" fill="#121212" textLength="53.97" lengthAdjust="spacingAndGlyphs">inch</text>
<text x="5.00" y="1989.40" font-size="30.0" font-weight="normal" fill="#121212" stroke="#121212" stroke-width="0.35" textLength="106.82" lengthAdjust="spacingAndGlyphs">256 cm;</text>
<text x="117.98" y="1989.40" font-size="30.0" font-weight="normal" fill="#121212" textLength="50.49" lengthAdjust="spacingAndGlyphs">100</text>
<text x="212.24" y="1989.40" font-size="30.0" font-weight="normal" fill="#121212" textLength="53.97" lengthAdjust="spacingAndGlyphs">inch</text>
<text x="770.00" y="1990.80" font-size="30.0" font-weight="normal" fill="#121212" stroke="#121212" stroke-width="0.35" textLength="106.82" lengthAdjust="spacingAndGlyphs">256 cm;</text>
<text x="882.98" y="1990.80" font-size="30.0" font-weight="normal" fill="#121212" textLength="50.49" lengthAdjust="spacingAndGlyphs">100</text>
<text x="977.24" y="1990.80" font-size="30.0" font-weight="normal" fill="#121212" textLength="53.97" lengthAdjust="spacingAndGlyphs">inch</text>
<text x="173.00" y="1332.60" font-size="21.0" font-weight="normal" fill="#121212" textLength="72.02" lengthAdjust="spacingAndGlyphs">vasistas</text>
<line x1="110.0" y1="43.8" x2="118.2" y2="17.8" stroke="#141414" stroke-width="2.2"/>
<text x="487.71" y="198.82" font-size="19.5" fill="#141414">1</text>
<text x="501.02" y="215.70" font-size="19.5" fill="#141414">2</text>
<line x1="489.60" y1="213.20" x2="508.90" y2="186.90" stroke="#141414" stroke-width="2.1"/>
<text x="524.91" y="1190.52" font-size="19.5" fill="#141414">1</text>
<text x="538.22" y="1207.40" font-size="19.5" fill="#141414">2</text>
<line x1="526.80" y1="1204.90" x2="546.10" y2="1178.60" stroke="#141414" stroke-width="2.1"/>
<text x="1245.81" y="513.02" font-size="19.5" fill="#141414">3</text>
<text x="1261.55" y="529.51" font-size="19.5" fill="#141414">8</text>
<line x1="1250.00" y1="527.20" x2="1269.30" y2="500.90" stroke="#141414" stroke-width="2.1"/>
<text x="1245.81" y="944.02" font-size="19.5" fill="#141414">3</text>
<text x="1261.55" y="960.51" font-size="19.5" fill="#141414">8</text>
<line x1="1250.00" y1="958.20" x2="1269.30" y2="931.90" stroke="#141414" stroke-width="2.1"/>
<text x="1286.81" y="1505.12" font-size="19.5" fill="#141414">3</text>
<text x="1302.55" y="1521.61" font-size="19.5" fill="#141414">8</text>
<line x1="1291.00" y1="1519.30" x2="1310.30" y2="1493.00" stroke="#141414" stroke-width="2.1"/>
<text x="1287.01" y="1935.52" font-size="19.5" fill="#141414">3</text>
<text x="1302.75" y="1952.01" font-size="19.5" fill="#141414">8</text>
<line x1="1291.20" y1="1949.70" x2="1310.50" y2="1923.40" stroke="#141414" stroke-width="2.1"/>
<text x="165.51" y="555.32" font-size="19.5" fill="#141414">1</text>
<text x="179.35" y="572.20" font-size="19.5" fill="#141414">4</text>
<line x1="167.40" y1="569.70" x2="186.70" y2="543.40" stroke="#141414" stroke-width="2.1"/>
<text x="930.51" y="556.52" font-size="19.5" fill="#141414">1</text>
<text x="944.35" y="573.40" font-size="19.5" fill="#141414">4</text>
<line x1="932.40" y1="570.90" x2="951.70" y2="544.60" stroke="#141414" stroke-width="2.1"/>
<text x="165.51" y="986.12" font-size="19.5" fill="#141414">1</text>
<text x="179.35" y="1003.00" font-size="19.5" fill="#141414">4</text>
<line x1="167.40" y1="1000.50" x2="186.70" y2="974.20" stroke="#141414" stroke-width="2.1"/>
<text x="930.51" y="987.52" font-size="19.5" fill="#141414">1</text>
<text x="944.35" y="1004.40" font-size="19.5" fill="#141414">4</text>
<line x1="932.40" y1="1001.90" x2="951.70" y2="975.60" stroke="#141414" stroke-width="2.1"/>
<text x="175.81" y="1547.12" font-size="19.5" fill="#141414">3</text>
<text x="191.95" y="1563.80" font-size="19.5" fill="#141414">4</text>
<line x1="180.00" y1="1561.30" x2="199.30" y2="1535.00" stroke="#141414" stroke-width="2.1"/>
<text x="940.81" y="1548.32" font-size="19.5" fill="#141414">3</text>
<text x="956.95" y="1565.00" font-size="19.5" fill="#141414">4</text>
<line x1="945.00" y1="1562.50" x2="964.30" y2="1536.20" stroke="#141414" stroke-width="2.1"/>
<text x="175.81" y="1977.52" font-size="19.5" fill="#141414">3</text>
<text x="191.95" y="1994.20" font-size="19.5" fill="#141414">4</text>
<line x1="180.00" y1="1991.70" x2="199.30" y2="1965.40" stroke="#141414" stroke-width="2.1"/>
<text x="940.81" y="1978.92" font-size="19.5" fill="#141414">3</text>
<text x="956.95" y="1995.60" font-size="19.5" fill="#141414">4</text>
<line x1="945.00" y1="1993.10" x2="964.30" y2="1966.80" stroke="#141414" stroke-width="2.1"/>
</svg>
</body></html>
